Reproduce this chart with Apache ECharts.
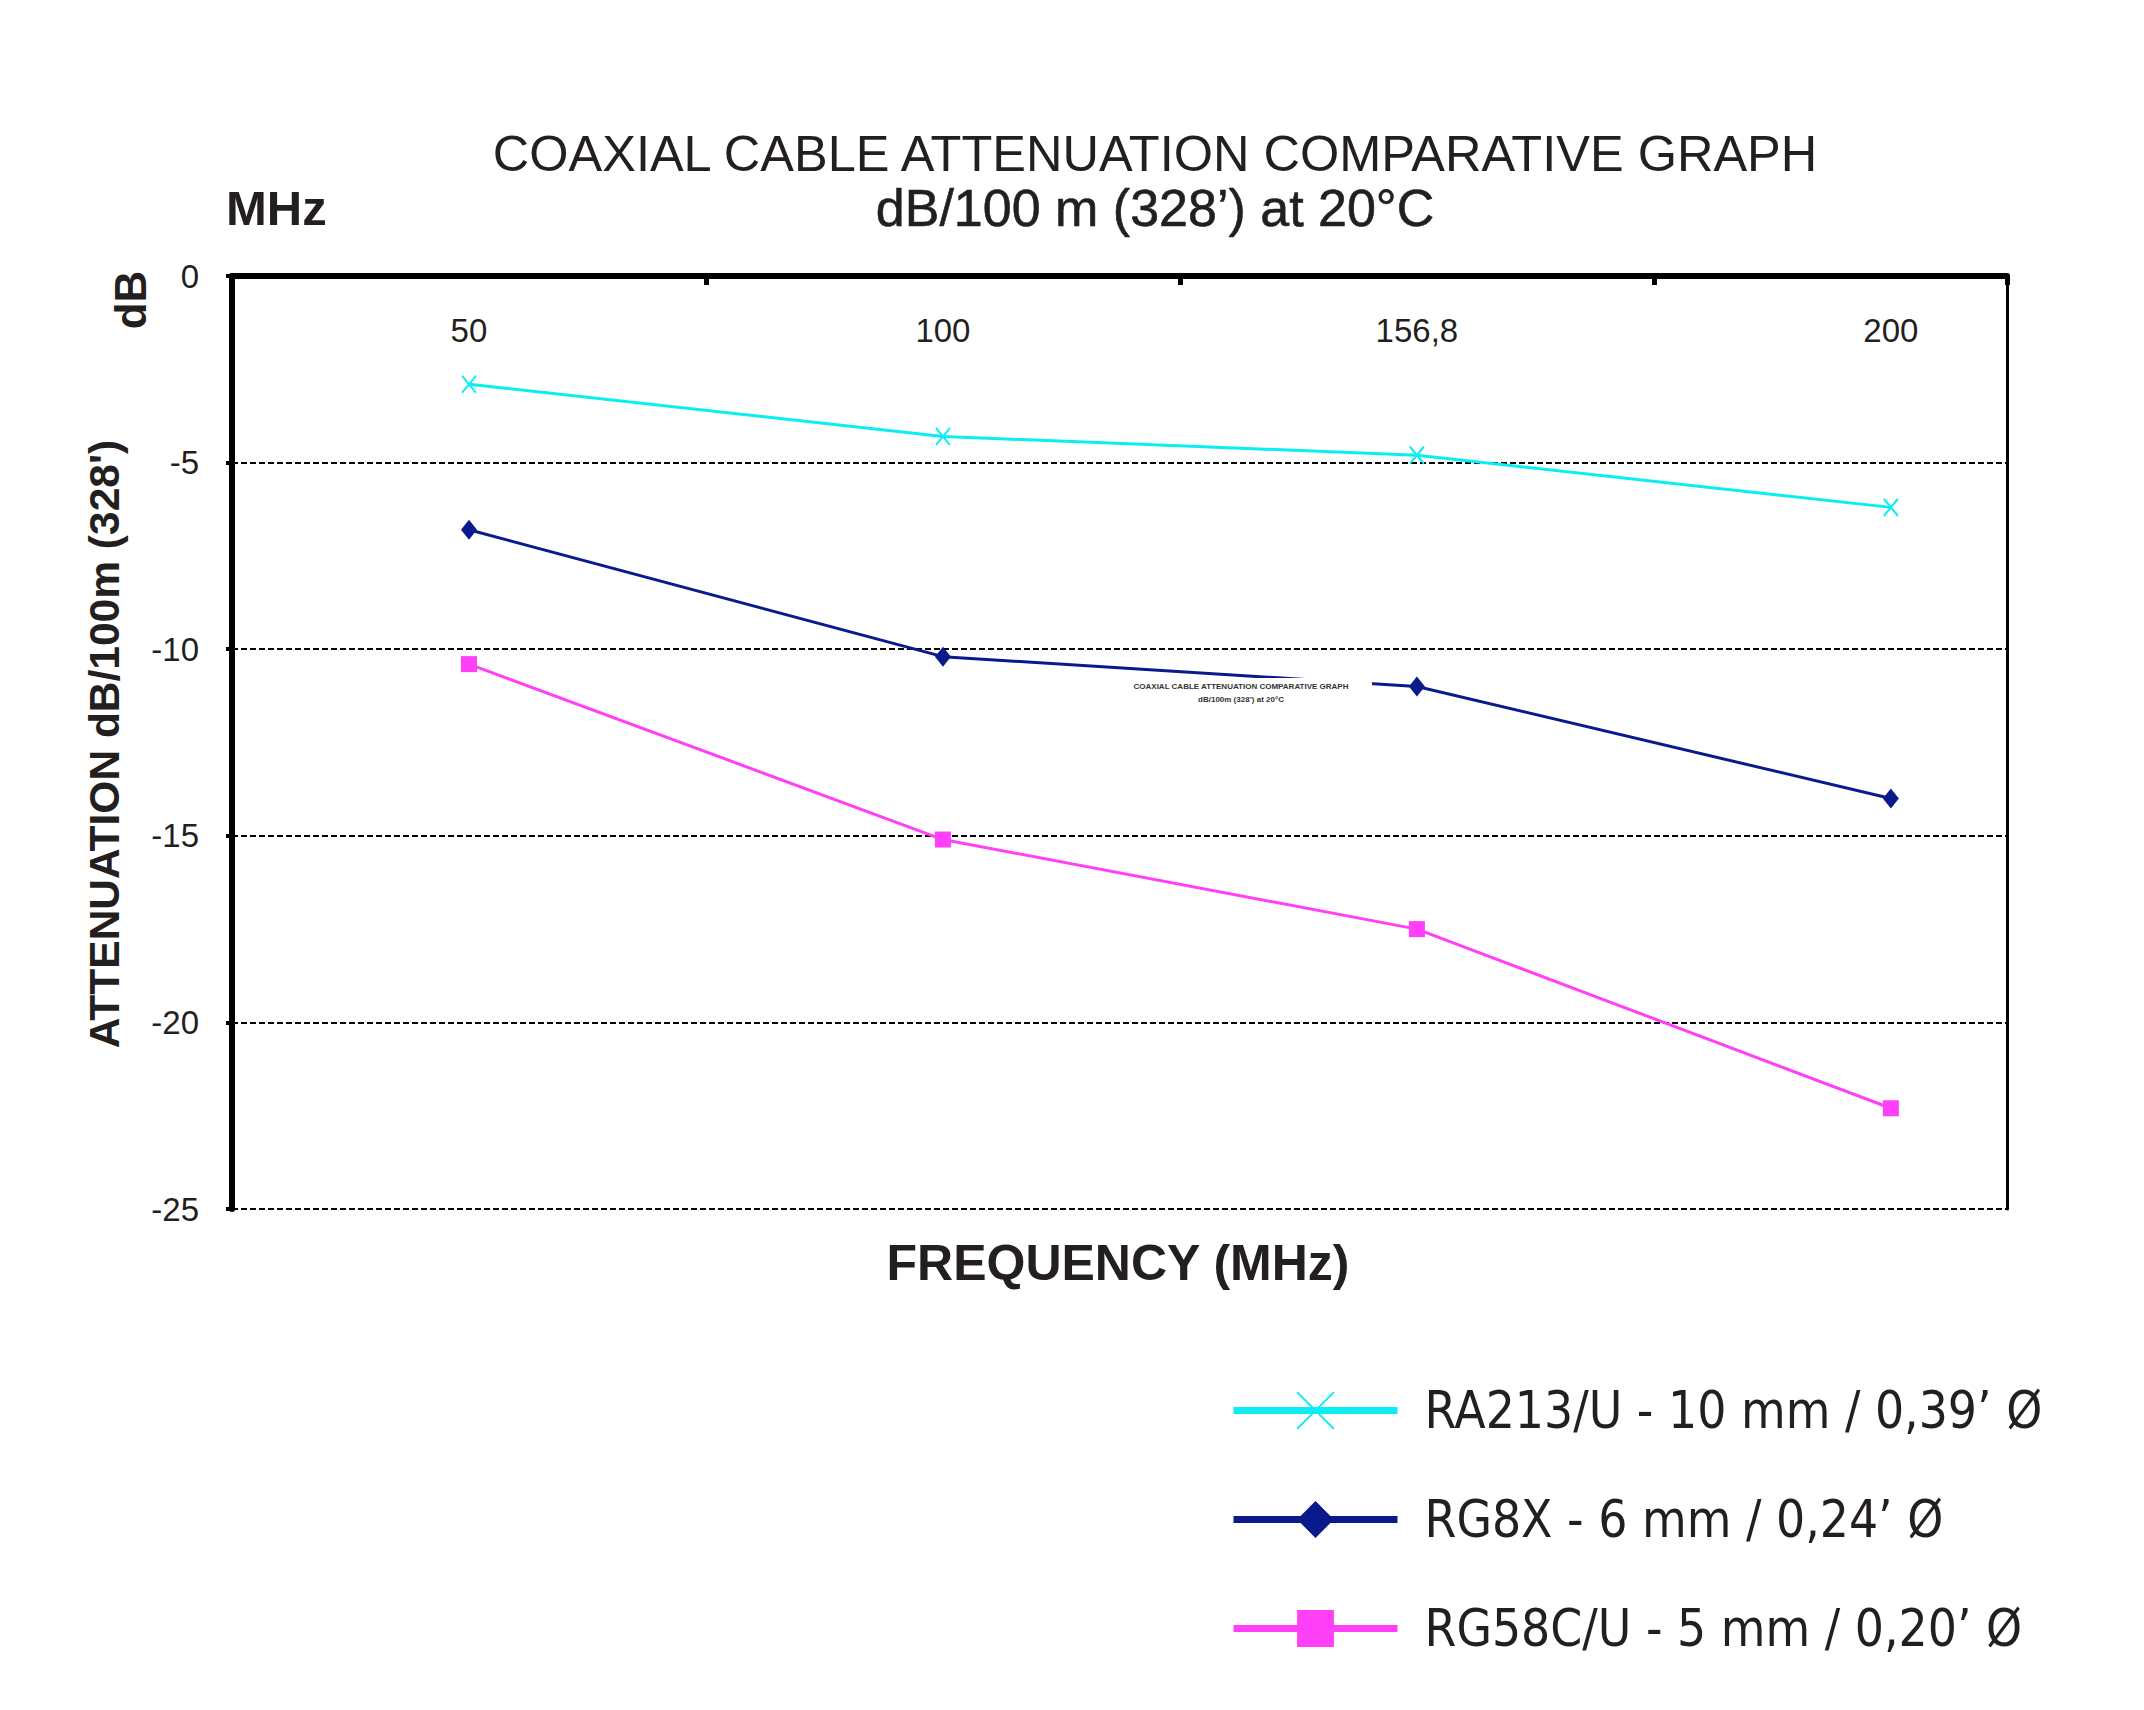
<!DOCTYPE html>
<html><head><meta charset="utf-8">
<script src="https://cdn.jsdelivr.net/npm/echarts@6/dist/echarts.min.js"></script>
<style>html,body{margin:0;padding:0;background:#fff}#c{width:2144px;height:1710px}</style>
</head><body><div id="c"></div>
<script>
const categories = ['50', '100', '156,8', '200'];
const seriesNames = ['RA213/U - 10 mm / 0,39\u2019 \u00D8', 'RG8X - 6 mm / 0,24\u2019 \u00D8', 'RG58C/U - 5 mm / 0,20\u2019 \u00D8'];
const ra213 = [-2.9, -4.3, -4.8, -6.2];
const rg8x = [-6.8, -10.2, -11.0, -14.0];
const rg58 = [-10.4, -15.1, -17.5, -22.3];
const yMin = -25, yMax = 0, yStep = 5;

const TXT = '#231f20';
const ARIAL = '"Liberation Sans", Arial, sans-serif';
const NARROW = '"Liberation Sans Narrow", "DejaVu Sans Condensed", "Liberation Sans", sans-serif';
const colors = ['#0aeef2', '#0a1a8c', '#ff40f8'];
const X_MAX = 3.245;

const toPts = arr => arr.map((v, i) => [i, v]);

const chart = echarts.init(document.getElementById('c'), null, {renderer: 'svg'});
chart.setOption({
  backgroundColor: '#fff',
  animation: false,
  grid: {left: 232, top: 276, width: 1775, height: 933, containLabel: false},
  xAxis: [{
    type: 'value', position: 'top', min: -0.5, max: X_MAX, interval: 0.5,
    axisLine: {show: true, onZero: false, lineStyle: {color: '#000', width: 6}},
    axisTick: {show: false},
    splitLine: {show: false},
    axisLabel: {
      inside: true, margin: 38, fontSize: 33, fontFamily: ARIAL, color: TXT,
      showMinLabel: false, showMaxLabel: false,
      formatter: v => (Number.isInteger(v) && categories[v] !== undefined) ? categories[v] : ''
    }
  }, {
    type: 'value', position: 'top', min: -0.5, max: X_MAX, interval: 1,
    axisLine: {show: false, onZero: false},
    axisTick: {show: true, inside: true, length: 9, lineStyle: {color: '#000', width: 5}},
    splitLine: {show: false},
    axisLabel: {show: false}
  }],
  yAxis: [{
    type: 'value', position: 'left', min: yMin, max: yMax, interval: yStep,
    axisLine: {show: true, onZero: false, lineStyle: {color: '#000', width: 6}},
    axisTick: {show: true, length: 6, lineStyle: {color: '#000', width: 4}},
    splitLine: {show: true, lineStyle: {color: '#000', width: 2, type: [6, 3]}},
    axisLabel: {margin: 33, fontSize: 33, fontFamily: ARIAL, color: TXT}
  }, {
    type: 'value', position: 'right', min: yMin, max: yMax, interval: yStep,
    axisLine: {show: true, onZero: false, lineStyle: {color: '#000', width: 3}},
    axisTick: {show: false}, splitLine: {show: false}, axisLabel: {show: false}
  }],
  legend: {
    orient: 'vertical', left: 1225, top: 1380,
    itemWidth: 164, itemHeight: 46, itemGap: 58,
    lineStyle: {width: 7},
    textStyle: {fontSize: 51, lineHeight: 46, fontFamily: NARROW, color: TXT, padding: [0, 0, 0, 22]},
    data: seriesNames
  },
  series: [
    {
      name: seriesNames[0], type: 'line', xAxisIndex: 0, yAxisIndex: 0,
      data: toPts(ra213), symbol: 'path://M0,0L10,12M10,0L0,12', symbolSize: [14, 17],
      lineStyle: {color: colors[0], width: 3},
      itemStyle: {color: colors[0], borderColor: colors[0], borderWidth: 2}
    },
    {
      name: seriesNames[1], type: 'line', xAxisIndex: 0, yAxisIndex: 0,
      data: toPts(rg8x), symbol: 'diamond', symbolSize: [16, 20],
      lineStyle: {color: colors[1], width: 3},
      itemStyle: {color: colors[1]}
    },
    {
      name: seriesNames[2], type: 'line', xAxisIndex: 0, yAxisIndex: 0,
      data: toPts(rg58), symbol: 'rect', symbolSize: 16,
      lineStyle: {color: colors[2], width: 3},
      itemStyle: {color: colors[2]}
    }
  ],
  graphic: [
    {type: 'text', x: 1155, y: 153, z: 100,
      style: {text: 'COAXIAL CABLE ATTENUATION COMPARATIVE GRAPH', fontSize: 50.5, fontFamily: ARIAL, fill: TXT, align: 'center', verticalAlign: 'middle'}},
    {type: 'text', x: 1155, y: 208, z: 100,
      style: {text: 'dB/100 m (328\u2019) at 20\u00B0C', fontSize: 52, fontFamily: ARIAL, fill: TXT, align: 'center', verticalAlign: 'middle', stroke: TXT, lineWidth: 0.6}},
    {type: 'text', left: 226, top: 183, z: 100,
      style: {text: 'MHz', fontSize: 49, fontWeight: 'bold', fontFamily: ARIAL, fill: TXT}},
    {type: 'text', x: 130, y: 300, rotation: Math.PI / 2, z: 100,
      style: {text: 'dB', fontSize: 44, fontWeight: 'bold', fontFamily: ARIAL, fill: TXT, align: 'center', verticalAlign: 'middle'}},
    {type: 'text', x: 104, y: 744, rotation: Math.PI / 2, z: 100,
      style: {text: "ATTENUATION dB/100m (328')", fontSize: 42.5, fontWeight: 'bold', fontFamily: ARIAL, fill: TXT, align: 'center', verticalAlign: 'middle'}},
    {type: 'text', x: 1118, y: 1263, z: 100,
      style: {text: 'FREQUENCY (MHz)', fontSize: 50, fontWeight: 'bold', fontFamily: ARIAL, fill: TXT, align: 'center', verticalAlign: 'middle'}},
    {type: 'rect', shape: {x: 1112, y: 678, width: 260, height: 30}, z: 100, style: {fill: '#fff'}},
    {type: 'text', x: 1241, y: 686, z: 101,
      style: {text: 'COAXIAL CABLE ATTENUATION COMPARATIVE GRAPH', fontSize: 8, fontWeight: 'bold', fontFamily: ARIAL, fill: '#333', align: 'center', verticalAlign: 'middle'}},
    {type: 'text', x: 1241, y: 699, z: 101,
      style: {text: 'dB/100m (328\u2019) at 20\u00B0C', fontSize: 8, fontWeight: 'bold', fontFamily: ARIAL, fill: '#333', align: 'center', verticalAlign: 'middle'}}
  ]
});
</script></body></html>
